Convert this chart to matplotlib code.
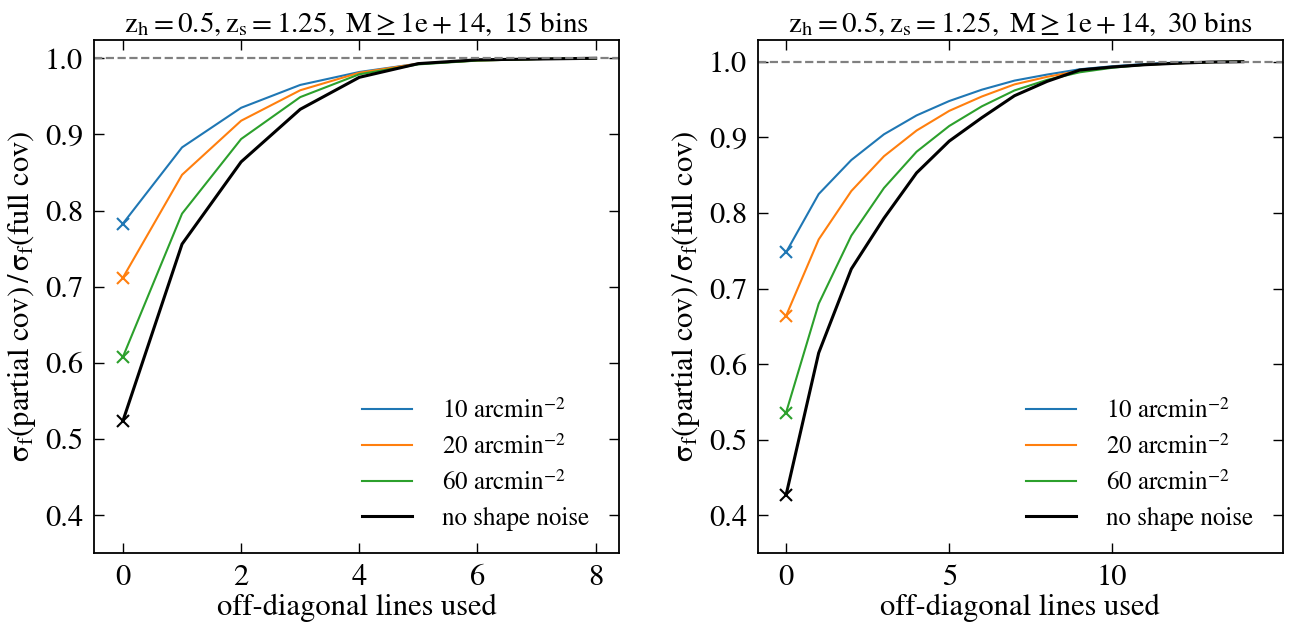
import matplotlib
matplotlib.use("Agg")
import matplotlib.pyplot as plt
import numpy as np

plt.rcParams['font.family'] = ['STIXGeneral', 'DejaVu Serif']
plt.rcParams['mathtext.fontset'] = 'stix'

# ---- data: 15 bins ----
x15 = list(range(9))
blue15 = [0.783, 0.883, 0.935, 0.965, 0.982, 0.993, 0.997, 0.999, 1.0]
orange15 = [0.712, 0.847, 0.918, 0.958, 0.981, 0.993, 0.997, 0.999, 1.0]
green15 = [0.608, 0.796, 0.894, 0.949, 0.979, 0.992, 0.997, 0.999, 1.0]
black15 = [0.524, 0.756, 0.864, 0.933, 0.975, 0.993, 0.998, 0.999, 1.0]

# ---- data: 30 bins ----
x30 = list(range(15))
blue30 = [0.748, 0.825, 0.870, 0.904, 0.929, 0.948, 0.963, 0.975, 0.983,
          0.990, 0.994, 0.997, 0.999, 0.9995, 1.0]
orange30 = [0.664, 0.765, 0.829, 0.875, 0.909, 0.935, 0.954, 0.970, 0.980,
            0.988, 0.993, 0.996, 0.998, 0.9995, 1.0]
green30 = [0.536, 0.680, 0.770, 0.833, 0.881, 0.915, 0.941, 0.962, 0.976,
           0.986, 0.992, 0.996, 0.998, 0.9995, 1.0]
black30 = [0.427, 0.615, 0.726, 0.793, 0.853, 0.895, 0.926, 0.955, 0.974,
           0.989, 0.993, 0.996, 0.998, 0.9995, 1.0]

labels = [r'10 arcmin$^{-2}$', r'20 arcmin$^{-2}$', r'60 arcmin$^{-2}$', 'no shape noise']
colors = ['#1f77b4', '#ff7f0e', '#2ca02c', 'black']
widths = [1.5, 1.5, 1.5, 2.2]

titles = [r'$\mathrm{z_h=0.5, z_s=1.25,\ M\geq 1e+14,\ 15\ bins}$',
          r'$\mathrm{z_h=0.5, z_s=1.25,\ M\geq 1e+14,\ 30\ bins}$']
ylab = r'$\mathrm{\sigma_f(partial\ cov)\,/\,\sigma_f(full\ cov)}$'

fig = plt.figure(figsize=(12.99, 6.29), dpi=100)
W, H = 1299, 629
ax1 = fig.add_axes([94 / W, (H - 553.3) / H, (619.3 - 94) / W, (553.3 - 40) / H])
ax2 = fig.add_axes([758 / W, (H - 553.3) / H, (1282.7 - 758) / W, (553.3 - 40) / H])

datasets = [
    (ax1, x15, [blue15, orange15, green15, black15], (-0.49, 8.4), (0.35, 1.024), [0, 2, 4, 6, 8]),
    (ax2, x30, [blue30, orange30, green30, black30], (-0.86, 15.22), (0.35, 1.0287), [0, 5, 10]),
]

for i, (ax, x, ys, xl, yl, xt) in enumerate(datasets):
    for y, c, lw, lab in zip(ys, colors, widths, labels):
        ax.plot(x, y, color=c, lw=lw, label=lab)
        ax.plot(x[0], y[0], marker='x', color=c, ms=9, mew=1.5, ls='none')
    ax.axhline(1.0, color='gray', ls='--', lw=1.6)
    ax.set_xlim(*xl)
    ax.set_ylim(*yl)
    ax.set_xticks(xt)
    ax.set_yticks([0.4, 0.5, 0.6, 0.7, 0.8, 0.9, 1.0])
    ax.tick_params(direction='in', top=True, right=True, length=7, width=1,
                   labelsize=22, pad=8)
    for s in ax.spines.values():
        s.set_linewidth(1.3)
    ax.set_xlabel('off-diagonal lines used', fontsize=22, labelpad=1)
    ax.set_ylabel(ylab, fontsize=22, labelpad=5)
    ax.set_title(titles[i], fontsize=21, pad=6)
    ax.legend(loc='lower right', bbox_to_anchor=(1.0, -0.015), frameon=False,
              fontsize=18, handlelength=2.0, handletextpad=1.2,
              labelspacing=0.45, borderaxespad=0.8)

fig.savefig('out.png', dpi=100)
